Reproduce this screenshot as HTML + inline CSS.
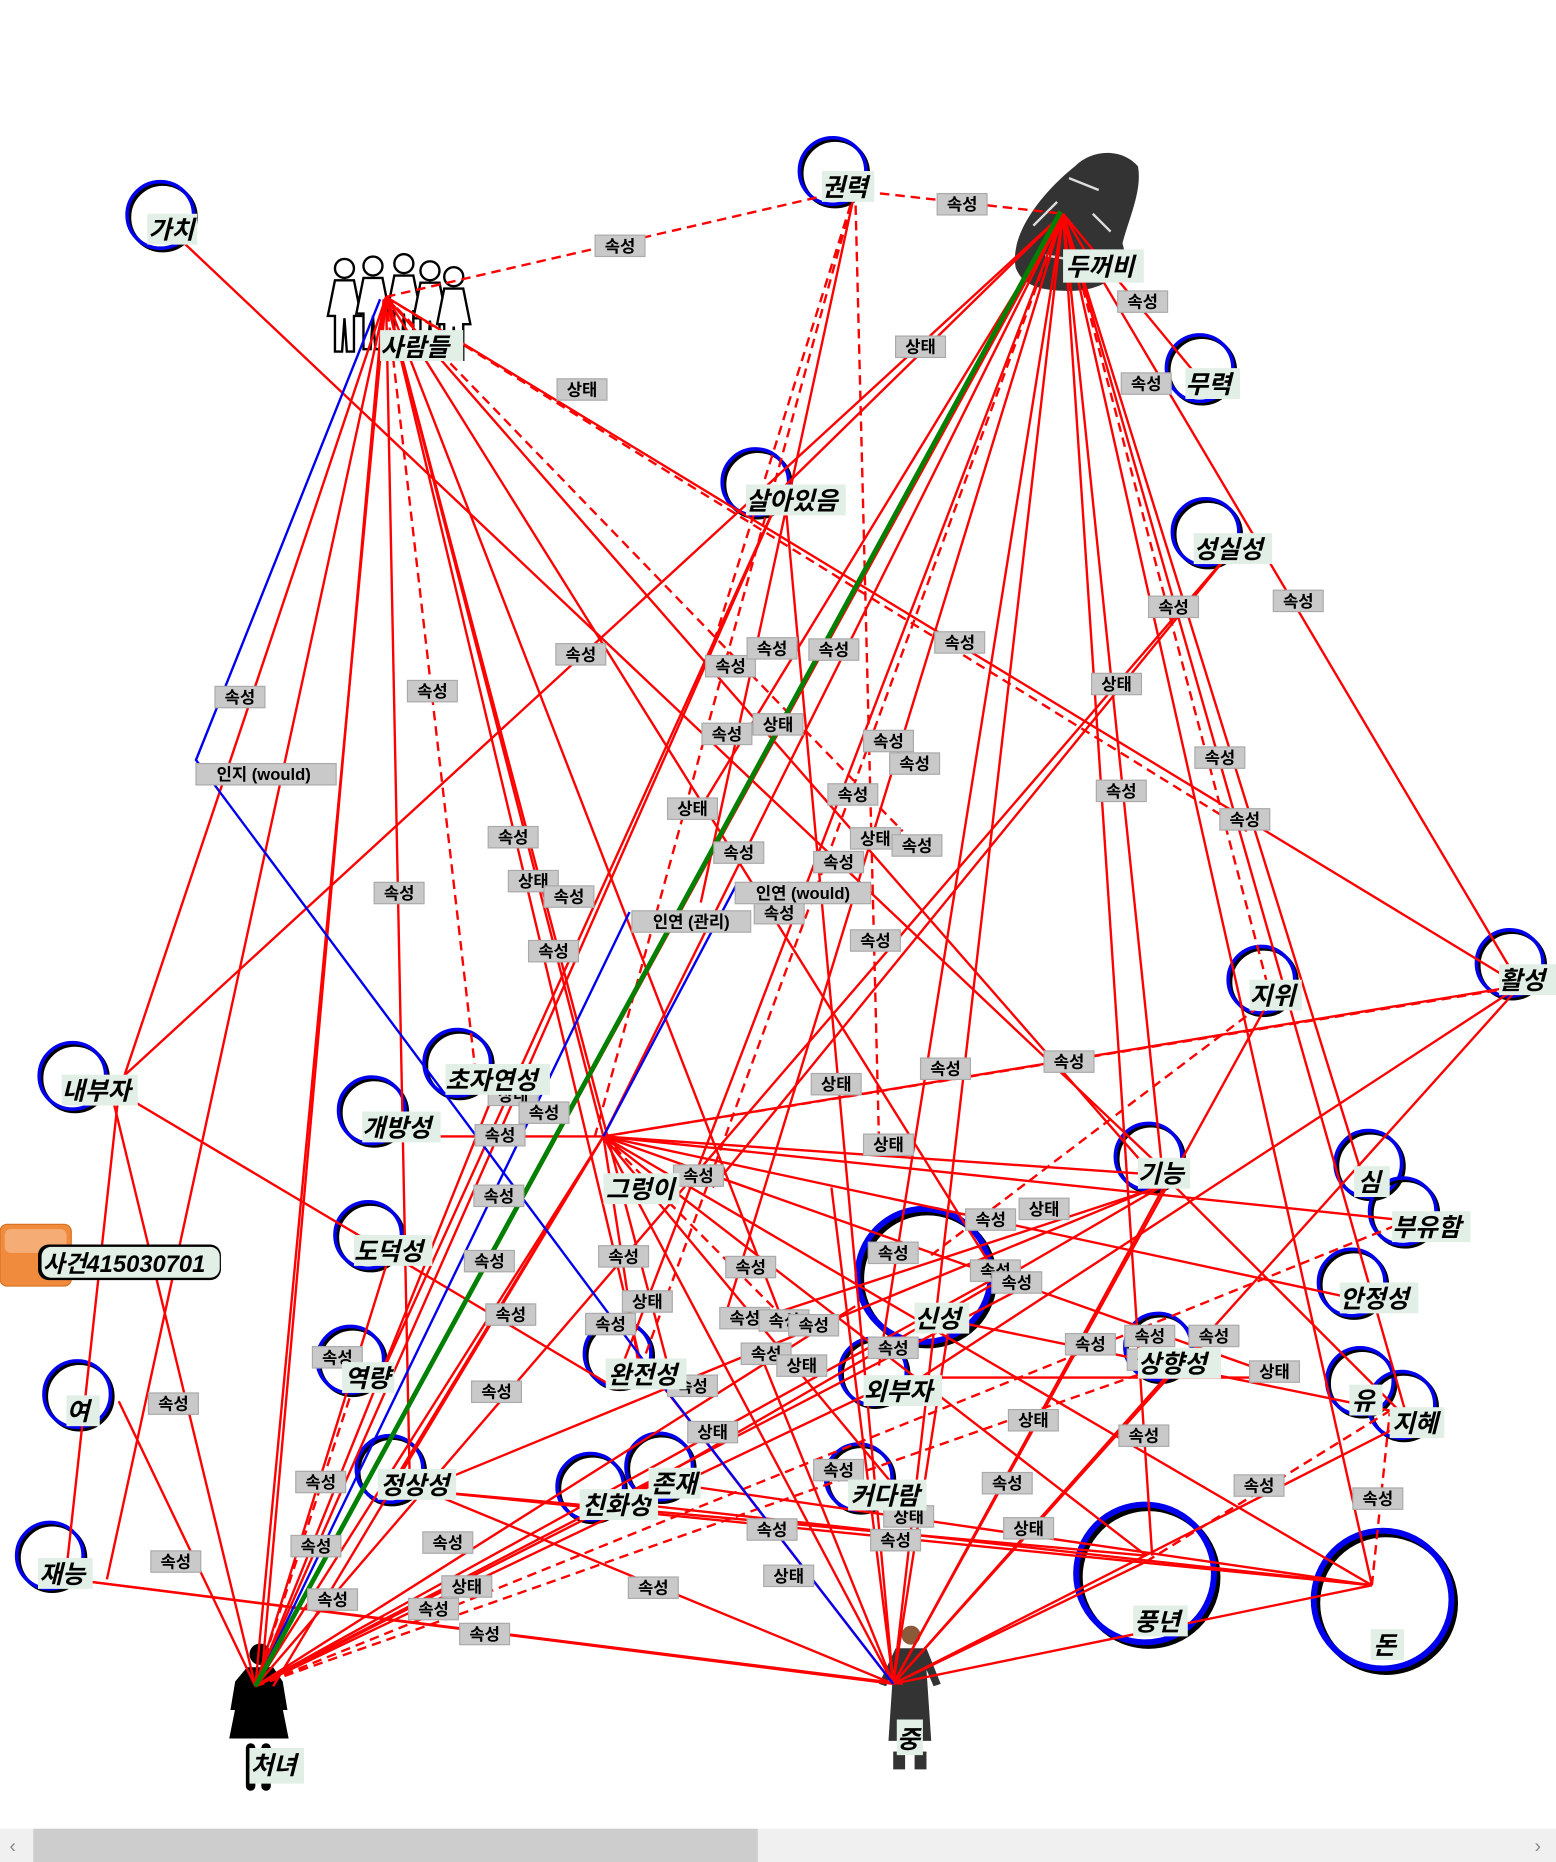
<!DOCTYPE html>
<html><head><meta charset="utf-8"><style>
html,body{margin:0;padding:0;background:#fff;width:1556px;height:1862px;overflow:hidden}
svg{display:block}
.l{fill:#c9c9c9;stroke:#aaa;stroke-width:1}
.t{font-family:"Liberation Sans","Noto Sans CJK KR",sans-serif;font-weight:bold;font-size:14px;fill:#000}
.n{font-family:"Liberation Sans","Noto Sans CJK KR",sans-serif;font-weight:bold;font-style:italic;font-size:21px;fill:#000}
.nb{fill:#e2efe6}
</style></head><body>
<svg width="1556" height="1862" viewBox="0 0 1310 1568" preserveAspectRatio="none" xmlns="http://www.w3.org/2000/svg">
<rect width="1310" height="1568" fill="#fff"/>
<!-- nodes circles -->
<g fill="none" stroke-width="3">
<g id="circles">
</g>
</g>
<g fill="none" stroke-width="3">
<circle cx="135" cy="181" r="28" stroke="#000" transform="translate(2,2)"/><circle cx="135" cy="181" r="28" stroke="#0000ee"/>
<circle cx="701" cy="144" r="28" stroke="#000" transform="translate(2,2)"/><circle cx="701" cy="144" r="28" stroke="#0000ee"/>
<circle cx="1010" cy="310" r="28" stroke="#000" transform="translate(2,2)"/><circle cx="1010" cy="310" r="28" stroke="#0000ee"/>
<circle cx="636" cy="406" r="28" stroke="#000" transform="translate(2,2)"/><circle cx="636" cy="406" r="28" stroke="#0000ee"/>
<circle cx="1015" cy="448" r="28" stroke="#000" transform="translate(2,2)"/><circle cx="1015" cy="448" r="28" stroke="#0000ee"/>
<circle cx="1062" cy="825" r="28" stroke="#000" transform="translate(2,2)"/><circle cx="1062" cy="825" r="28" stroke="#0000ee"/>
<circle cx="1271" cy="811" r="28" stroke="#000" transform="translate(2,2)"/><circle cx="1271" cy="811" r="28" stroke="#0000ee"/>
<circle cx="61" cy="906" r="28" stroke="#000" transform="translate(2,2)"/><circle cx="61" cy="906" r="28" stroke="#0000ee"/>
<circle cx="385" cy="895" r="28" stroke="#000" transform="translate(2,2)"/><circle cx="385" cy="895" r="28" stroke="#0000ee"/>
<circle cx="313" cy="935" r="28" stroke="#000" transform="translate(2,2)"/><circle cx="313" cy="935" r="28" stroke="#0000ee"/>
<circle cx="967" cy="974" r="28" stroke="#000" transform="translate(2,2)"/><circle cx="967" cy="974" r="28" stroke="#0000ee"/>
<circle cx="1152" cy="980" r="28" stroke="#000" transform="translate(2,2)"/><circle cx="1152" cy="980" r="28" stroke="#0000ee"/>
<circle cx="1181" cy="1020" r="28" stroke="#000" transform="translate(2,2)"/><circle cx="1181" cy="1020" r="28" stroke="#0000ee"/>
<circle cx="310" cy="1040" r="28" stroke="#000" transform="translate(2,2)"/><circle cx="310" cy="1040" r="28" stroke="#0000ee"/>
<circle cx="778" cy="1074" r="56" stroke="#000" stroke-width="5" transform="translate(3,3)"/><circle cx="778" cy="1074" r="56" stroke="#0000ee" stroke-width="5"/>
<circle cx="1138" cy="1080" r="28" stroke="#000" transform="translate(2,2)"/><circle cx="1138" cy="1080" r="28" stroke="#0000ee"/>
<circle cx="65" cy="1174" r="28" stroke="#000" transform="translate(2,2)"/><circle cx="65" cy="1174" r="28" stroke="#0000ee"/>
<circle cx="295" cy="1145" r="28" stroke="#000" transform="translate(2,2)"/><circle cx="295" cy="1145" r="28" stroke="#0000ee"/>
<circle cx="520" cy="1140" r="28" stroke="#000" transform="translate(2,2)"/><circle cx="520" cy="1140" r="28" stroke="#0000ee"/>
<circle cx="735" cy="1155" r="28" stroke="#000" transform="translate(2,2)"/><circle cx="735" cy="1155" r="28" stroke="#0000ee"/>
<circle cx="975" cy="1134" r="28" stroke="#000" transform="translate(2,2)"/><circle cx="975" cy="1134" r="28" stroke="#0000ee"/>
<circle cx="1145" cy="1163" r="28" stroke="#000" transform="translate(2,2)"/><circle cx="1145" cy="1163" r="28" stroke="#0000ee"/>
<circle cx="1180" cy="1183" r="28" stroke="#000" transform="translate(2,2)"/><circle cx="1180" cy="1183" r="28" stroke="#0000ee"/>
<circle cx="328" cy="1237" r="28" stroke="#000" transform="translate(2,2)"/><circle cx="328" cy="1237" r="28" stroke="#0000ee"/>
<circle cx="497" cy="1252" r="28" stroke="#000" transform="translate(2,2)"/><circle cx="497" cy="1252" r="28" stroke="#0000ee"/>
<circle cx="555" cy="1235" r="28" stroke="#000" transform="translate(2,2)"/><circle cx="555" cy="1235" r="28" stroke="#0000ee"/>
<circle cx="723" cy="1244" r="28" stroke="#000" transform="translate(2,2)"/><circle cx="723" cy="1244" r="28" stroke="#0000ee"/>
<circle cx="964" cy="1325" r="58" stroke="#000" stroke-width="5" transform="translate(3,3)"/><circle cx="964" cy="1325" r="58" stroke="#0000ee" stroke-width="5"/>
<circle cx="1164" cy="1347" r="58" stroke="#000" stroke-width="5" transform="translate(3,3)"/><circle cx="1164" cy="1347" r="58" stroke="#0000ee" stroke-width="5"/>
<circle cx="42" cy="1310" r="28" stroke="#000" transform="translate(2,2)"/><circle cx="42" cy="1310" r="28" stroke="#0000ee"/>
</g>
<!-- images -->
<g>
<path d="M855,225 C850,195 880,160 905,140 C920,125 945,125 958,140 C962,160 950,185 945,205 C952,225 935,245 900,245 C875,245 860,240 855,225Z" fill="#333"/>
<path d="M870,190 l20,-20 M900,150 l25,10 M880,215 l30,5 M920,180 l15,15" stroke="#ddd" stroke-width="2"/>
<g stroke="#000" stroke-width="2" fill="#fff">
<circle cx="290" cy="226" r="8"/><path d="M282,236 h16 l6,30 -6,0 0,30 -6,0 -2,-28 -2,28 -6,0 0,-30 -6,0z"/>
<circle cx="314" cy="224" r="8"/><path d="M306,234 h16 l6,30 -6,0 0,30 -6,0 -2,-28 -2,28 -6,0 0,-30 -6,0z"/>
<circle cx="340" cy="222" r="8"/><path d="M332,232 h16 l6,30 -6,0 0,30 -6,0 -2,-28 -2,28 -6,0 0,-30 -6,0z"/>
<circle cx="362" cy="228" r="8"/><path d="M354,238 h16 l6,30 -6,0 0,30 -6,0 -2,-28 -2,28 -6,0 0,-30 -6,0z"/>
<circle cx="382" cy="233" r="8"/><path d="M374,243 h16 l6,30 -6,0 0,30 -6,0 -2,-28 -2,28 -6,0 0,-30 -6,0z"/>
</g>
<circle cx="219" cy="1393" r="9" fill="#000"/>
<path d="M208,1404 h22 l8,12 4,24 -4,0 -3,-16 8,40 -50,0 8,-40 -3,16 -4,0 4,-24z" fill="#000"/>
<rect x="207" y="1468" width="8" height="40" rx="4" fill="#000"/><rect x="220" y="1468" width="8" height="40" rx="4" fill="#000"/>
<circle cx="767" cy="1377" r="8" fill="#8a5a3a"/>
<path d="M754,1388 h26 l12,30 -6,2 -6,-14 4,60 -36,0 4,-60 -6,14 -6,-2z" fill="#333"/>
<rect x="752" y="1475" width="10" height="15" fill="#333"/><rect x="770" y="1475" width="10" height="15" fill="#333"/>
</g>
<!-- edges -->
<g stroke="#f00" stroke-width="2" fill="none">
<line x1="325" y1="250" x2="715" y2="160" stroke-dasharray="8,5"/>
<line x1="715" y1="160" x2="895" y2="180" stroke-dasharray="8,5"/>
<line x1="720" y1="160" x2="595" y2="560" stroke-dasharray="8,5"/>
<line x1="720" y1="160" x2="590" y2="760"/>
<line x1="720" y1="160" x2="740" y2="960" stroke-dasharray="8,5"/>
<line x1="720" y1="160" x2="500" y2="960" stroke-dasharray="8,5"/>
<line x1="150" y1="200" x2="985" y2="990"/>
<line x1="325" y1="250" x2="215" y2="1420"/>
<line x1="323" y1="252" x2="220" y2="1415"/>
<line x1="325" y1="250" x2="105" y2="905"/>
<line x1="325" y1="250" x2="90" y2="1330"/>
<line x1="325" y1="250" x2="345" y2="1250"/>
<line x1="325" y1="250" x2="400" y2="900" stroke-dasharray="8,5"/>
<line x1="325" y1="250" x2="508" y2="957"/>
<line x1="325" y1="250" x2="540" y2="1150"/>
<line x1="325" y1="250" x2="565" y2="1160"/>
<line x1="325" y1="250" x2="660" y2="1115"/>
<line x1="325" y1="250" x2="840" y2="1075"/>
<line x1="325" y1="250" x2="1050" y2="700" stroke-dasharray="8,5"/>
<line x1="325" y1="250" x2="1280" y2="830"/>
<line x1="325" y1="250" x2="760" y2="700" stroke-dasharray="8,5"/>
<line x1="325" y1="250" x2="980" y2="1000"/>
<line x1="895" y1="180" x2="215" y2="1420"/>
<line x1="895" y1="180" x2="100" y2="910"/>
<line x1="895" y1="180" x2="508" y2="957"/>
<line x1="895" y1="180" x2="520" y2="1160"/>
<line x1="895" y1="180" x2="540" y2="1150" stroke-dasharray="8,5"/>
<line x1="895" y1="180" x2="610" y2="1110"/>
<line x1="895" y1="180" x2="740" y2="1150"/>
<line x1="895" y1="180" x2="752" y2="1418"/>
<line x1="895" y1="180" x2="980" y2="1000"/>
<line x1="895" y1="180" x2="970" y2="1310"/>
<line x1="895" y1="180" x2="1070" y2="840" stroke-dasharray="8,5"/>
<line x1="895" y1="180" x2="1155" y2="1335"/>
<line x1="895" y1="180" x2="1185" y2="1195"/>
<line x1="895" y1="180" x2="1280" y2="830"/>
<line x1="895" y1="180" x2="1015" y2="325"/>
<line x1="895" y1="180" x2="1150" y2="1000"/>
<line x1="895" y1="180" x2="660" y2="410"/>
<line x1="895" y1="180" x2="590" y2="680"/>
<line x1="660" y1="410" x2="215" y2="1420"/>
<line x1="660" y1="410" x2="752" y2="1418"/>
<line x1="660" y1="410" x2="320" y2="1160"/>
<line x1="1040" y1="460" x2="215" y2="1420"/>
<line x1="1040" y1="460" x2="600" y2="1000"/>
<line x1="508" y1="957" x2="215" y2="1420"/>
<line x1="508" y1="957" x2="230" y2="1420"/>
<line x1="508" y1="957" x2="752" y2="1418"/>
<line x1="508" y1="957" x2="355" y2="957"/>
<line x1="508" y1="957" x2="985" y2="990"/>
<line x1="508" y1="957" x2="1285" y2="830" stroke-dasharray="8,5"/>
<line x1="508" y1="957" x2="1155" y2="1335"/>
<line x1="508" y1="957" x2="965" y2="1310"/>
<line x1="508" y1="957" x2="1205" y2="1030"/>
<line x1="508" y1="957" x2="1170" y2="1100"/>
<line x1="508" y1="957" x2="1080" y2="1160"/>
<line x1="508" y1="957" x2="540" y2="1165"/>
<line x1="508" y1="957" x2="330" y2="1250"/>
<line x1="508" y1="957" x2="660" y2="1110" stroke-dasharray="8,5"/>
<line x1="508" y1="957" x2="760" y2="1260"/>
<line x1="215" y1="1420" x2="100" y2="1180"/>
<line x1="215" y1="1420" x2="90" y2="905"/>
<line x1="215" y1="1420" x2="840" y2="1075"/>
<line x1="215" y1="1420" x2="860" y2="1085"/>
<line x1="215" y1="1420" x2="980" y2="1150" stroke-dasharray="8,5"/>
<line x1="215" y1="1420" x2="1180" y2="1030" stroke-dasharray="8,5"/>
<line x1="215" y1="1420" x2="760" y2="1160"/>
<line x1="215" y1="1420" x2="560" y2="1245"/>
<line x1="215" y1="1420" x2="330" y2="1050"/>
<line x1="215" y1="1420" x2="300" y2="1160" stroke-dasharray="8,5"/>
<line x1="215" y1="1420" x2="420" y2="910"/>
<line x1="215" y1="1420" x2="720" y2="1100"/>
<line x1="752" y1="1418" x2="60" y2="1330"/>
<line x1="752" y1="1418" x2="345" y2="1250"/>
<line x1="752" y1="1418" x2="560" y2="1170"/>
<line x1="752" y1="1418" x2="985" y2="990"/>
<line x1="752" y1="1418" x2="1180" y2="1200"/>
<line x1="752" y1="1418" x2="1070" y2="840"/>
<line x1="752" y1="1418" x2="1280" y2="830"/>
<line x1="752" y1="1418" x2="990" y2="1150"/>
<line x1="752" y1="1418" x2="800" y2="1110"/>
<line x1="752" y1="1418" x2="640" y2="1140"/>
<line x1="752" y1="1418" x2="965" y2="1315"/>
<line x1="752" y1="1418" x2="1155" y2="1335"/>
<line x1="752" y1="1418" x2="700" y2="1000"/>
<line x1="352" y1="1255" x2="1155" y2="1335"/>
<line x1="352" y1="1255" x2="965" y2="1310"/>
<line x1="352" y1="1255" x2="985" y2="995"/>
<line x1="520" y1="1265" x2="1155" y2="1335"/>
<line x1="520" y1="1265" x2="985" y2="995"/>
<line x1="570" y1="1250" x2="1155" y2="1335"/>
<line x1="760" y1="1160" x2="1080" y2="1160"/>
<line x1="790" y1="1110" x2="1205" y2="1195"/>
<line x1="640" y1="1110" x2="990" y2="995"/>
<line x1="1280" y1="830" x2="508" y2="957"/>
<line x1="1280" y1="830" x2="760" y2="1170"/>
<line x1="1155" y1="1335" x2="1170" y2="1190" stroke-dasharray="8,5"/>
<line x1="965" y1="1315" x2="1175" y2="1185" stroke-dasharray="8,5"/>
<line x1="985" y1="995" x2="1200" y2="1210"/>
<line x1="1070" y1="840" x2="780" y2="1060" stroke-dasharray="8,5"/>
<line x1="100" y1="920" x2="520" y2="1170"/>
<line x1="100" y1="920" x2="55" y2="1330"/>
<line x1="60" y1="1330" x2="760" y2="1418"/>
</g>
<g stroke="#0000ee" stroke-width="2" fill="none">
<polyline points="320,252 165,640 545,1150 752,1418"/>
<line x1="530" y1="768" x2="215" y2="1420"/>
<line x1="620" y1="745" x2="508" y2="957"/>
</g>
<line x1="893" y1="178" x2="215" y2="1420" stroke="#008000" stroke-width="4"/>
<!-- labels -->
<g id="lbl"></g>
<g class="t">
<g transform="translate(522,207)"><rect class="l" x="-21" y="-9" width="42" height="18"/><text x="0" y="5" text-anchor="middle">속성</text></g>
<g transform="translate(810,172)"><rect class="l" x="-21" y="-9" width="42" height="18"/><text x="0" y="5" text-anchor="middle">속성</text></g>
<g transform="translate(775,292)"><rect class="l" x="-21" y="-9" width="42" height="18"/><text x="0" y="5" text-anchor="middle">상태</text></g>
<g transform="translate(962,254)"><rect class="l" x="-21" y="-9" width="42" height="18"/><text x="0" y="5" text-anchor="middle">속성</text></g>
<g transform="translate(965,323)"><rect class="l" x="-21" y="-9" width="42" height="18"/><text x="0" y="5" text-anchor="middle">속성</text></g>
<g transform="translate(490,328)"><rect class="l" x="-21" y="-9" width="42" height="18"/><text x="0" y="5" text-anchor="middle">상태</text></g>
<g transform="translate(988,511)"><rect class="l" x="-21" y="-9" width="42" height="18"/><text x="0" y="5" text-anchor="middle">속성</text></g>
<g transform="translate(1093,506)"><rect class="l" x="-21" y="-9" width="42" height="18"/><text x="0" y="5" text-anchor="middle">속성</text></g>
<g transform="translate(808,541)"><rect class="l" x="-21" y="-9" width="42" height="18"/><text x="0" y="5" text-anchor="middle">속성</text></g>
<g transform="translate(202,587)"><rect class="l" x="-21" y="-9" width="42" height="18"/><text x="0" y="5" text-anchor="middle">속성</text></g>
<g transform="translate(364,582)"><rect class="l" x="-21" y="-9" width="42" height="18"/><text x="0" y="5" text-anchor="middle">속성</text></g>
<g transform="translate(489,551)"><rect class="l" x="-21" y="-9" width="42" height="18"/><text x="0" y="5" text-anchor="middle">속성</text></g>
<g transform="translate(615,561)"><rect class="l" x="-21" y="-9" width="42" height="18"/><text x="0" y="5" text-anchor="middle">속성</text></g>
<g transform="translate(650,546)"><rect class="l" x="-21" y="-9" width="42" height="18"/><text x="0" y="5" text-anchor="middle">속성</text></g>
<g transform="translate(702,547)"><rect class="l" x="-21" y="-9" width="42" height="18"/><text x="0" y="5" text-anchor="middle">속성</text></g>
<g transform="translate(940,576)"><rect class="l" x="-21" y="-9" width="42" height="18"/><text x="0" y="5" text-anchor="middle">상태</text></g>
<g transform="translate(612,618)"><rect class="l" x="-21" y="-9" width="42" height="18"/><text x="0" y="5" text-anchor="middle">속성</text></g>
<g transform="translate(655,610)"><rect class="l" x="-21" y="-9" width="42" height="18"/><text x="0" y="5" text-anchor="middle">상태</text></g>
<g transform="translate(748,624)"><rect class="l" x="-21" y="-9" width="42" height="18"/><text x="0" y="5" text-anchor="middle">속성</text></g>
<g transform="translate(770,643)"><rect class="l" x="-21" y="-9" width="42" height="18"/><text x="0" y="5" text-anchor="middle">속성</text></g>
<g transform="translate(1027,638)"><rect class="l" x="-21" y="-9" width="42" height="18"/><text x="0" y="5" text-anchor="middle">속성</text></g>
<g transform="translate(944,666)"><rect class="l" x="-21" y="-9" width="42" height="18"/><text x="0" y="5" text-anchor="middle">속성</text></g>
<g transform="translate(1048,690)"><rect class="l" x="-21" y="-9" width="42" height="18"/><text x="0" y="5" text-anchor="middle">속성</text></g>
<g transform="translate(718,669)"><rect class="l" x="-21" y="-9" width="42" height="18"/><text x="0" y="5" text-anchor="middle">속성</text></g>
<g transform="translate(583,681)"><rect class="l" x="-21" y="-9" width="42" height="18"/><text x="0" y="5" text-anchor="middle">상태</text></g>
<g transform="translate(737,706)"><rect class="l" x="-21" y="-9" width="42" height="18"/><text x="0" y="5" text-anchor="middle">상태</text></g>
<g transform="translate(772,712)"><rect class="l" x="-21" y="-9" width="42" height="18"/><text x="0" y="5" text-anchor="middle">속성</text></g>
<g transform="translate(432,705)"><rect class="l" x="-21" y="-9" width="42" height="18"/><text x="0" y="5" text-anchor="middle">속성</text></g>
<g transform="translate(622,718)"><rect class="l" x="-21" y="-9" width="42" height="18"/><text x="0" y="5" text-anchor="middle">속성</text></g>
<g transform="translate(706,726)"><rect class="l" x="-21" y="-9" width="42" height="18"/><text x="0" y="5" text-anchor="middle">속성</text></g>
<g transform="translate(449,742)"><rect class="l" x="-21" y="-9" width="42" height="18"/><text x="0" y="5" text-anchor="middle">상태</text></g>
<g transform="translate(479,755)"><rect class="l" x="-21" y="-9" width="42" height="18"/><text x="0" y="5" text-anchor="middle">속성</text></g>
<g transform="translate(336,752)"><rect class="l" x="-21" y="-9" width="42" height="18"/><text x="0" y="5" text-anchor="middle">속성</text></g>
<g transform="translate(656,769)"><rect class="l" x="-21" y="-9" width="42" height="18"/><text x="0" y="5" text-anchor="middle">속성</text></g>
<g transform="translate(737,792)"><rect class="l" x="-21" y="-9" width="42" height="18"/><text x="0" y="5" text-anchor="middle">속성</text></g>
<g transform="translate(466,801)"><rect class="l" x="-21" y="-9" width="42" height="18"/><text x="0" y="5" text-anchor="middle">속성</text></g>
<g transform="translate(796,900)"><rect class="l" x="-21" y="-9" width="42" height="18"/><text x="0" y="5" text-anchor="middle">속성</text></g>
<g transform="translate(900,894)"><rect class="l" x="-21" y="-9" width="42" height="18"/><text x="0" y="5" text-anchor="middle">속성</text></g>
<g transform="translate(704,913)"><rect class="l" x="-21" y="-9" width="42" height="18"/><text x="0" y="5" text-anchor="middle">상태</text></g>
<g transform="translate(432,922)"><rect class="l" x="-21" y="-9" width="42" height="18"/><text x="0" y="5" text-anchor="middle">상태</text></g>
<g transform="translate(458,937)"><rect class="l" x="-21" y="-9" width="42" height="18"/><text x="0" y="5" text-anchor="middle">속성</text></g>
<g transform="translate(421,956)"><rect class="l" x="-21" y="-9" width="42" height="18"/><text x="0" y="5" text-anchor="middle">속성</text></g>
<g transform="translate(748,964)"><rect class="l" x="-21" y="-9" width="42" height="18"/><text x="0" y="5" text-anchor="middle">상태</text></g>
<g transform="translate(588,990)"><rect class="l" x="-21" y="-9" width="42" height="18"/><text x="0" y="5" text-anchor="middle">속성</text></g>
<g transform="translate(420,1007)"><rect class="l" x="-21" y="-9" width="42" height="18"/><text x="0" y="5" text-anchor="middle">속성</text></g>
<g transform="translate(879,1018)"><rect class="l" x="-21" y="-9" width="42" height="18"/><text x="0" y="5" text-anchor="middle">상태</text></g>
<g transform="translate(834,1027)"><rect class="l" x="-21" y="-9" width="42" height="18"/><text x="0" y="5" text-anchor="middle">속성</text></g>
<g transform="translate(752,1055)"><rect class="l" x="-21" y="-9" width="42" height="18"/><text x="0" y="5" text-anchor="middle">속성</text></g>
<g transform="translate(525,1058)"><rect class="l" x="-21" y="-9" width="42" height="18"/><text x="0" y="5" text-anchor="middle">속성</text></g>
<g transform="translate(412,1062)"><rect class="l" x="-21" y="-9" width="42" height="18"/><text x="0" y="5" text-anchor="middle">속성</text></g>
<g transform="translate(632,1067)"><rect class="l" x="-21" y="-9" width="42" height="18"/><text x="0" y="5" text-anchor="middle">속성</text></g>
<g transform="translate(838,1070)"><rect class="l" x="-21" y="-9" width="42" height="18"/><text x="0" y="5" text-anchor="middle">속성</text></g>
<g transform="translate(856,1080)"><rect class="l" x="-21" y="-9" width="42" height="18"/><text x="0" y="5" text-anchor="middle">속성</text></g>
<g transform="translate(545,1096)"><rect class="l" x="-21" y="-9" width="42" height="18"/><text x="0" y="5" text-anchor="middle">상태</text></g>
<g transform="translate(430,1107)"><rect class="l" x="-21" y="-9" width="42" height="18"/><text x="0" y="5" text-anchor="middle">속성</text></g>
<g transform="translate(514,1115)"><rect class="l" x="-21" y="-9" width="42" height="18"/><text x="0" y="5" text-anchor="middle">속성</text></g>
<g transform="translate(627,1110)"><rect class="l" x="-21" y="-9" width="42" height="18"/><text x="0" y="5" text-anchor="middle">속성</text></g>
<g transform="translate(660,1112)"><rect class="l" x="-21" y="-9" width="42" height="18"/><text x="0" y="5" text-anchor="middle">속성</text></g>
<g transform="translate(685,1116)"><rect class="l" x="-21" y="-9" width="42" height="18"/><text x="0" y="5" text-anchor="middle">속성</text></g>
<g transform="translate(284,1143)"><rect class="l" x="-21" y="-9" width="42" height="18"/><text x="0" y="5" text-anchor="middle">속성</text></g>
<g transform="translate(645,1140)"><rect class="l" x="-21" y="-9" width="42" height="18"/><text x="0" y="5" text-anchor="middle">속성</text></g>
<g transform="translate(675,1150)"><rect class="l" x="-21" y="-9" width="42" height="18"/><text x="0" y="5" text-anchor="middle">상태</text></g>
<g transform="translate(752,1135)"><rect class="l" x="-21" y="-9" width="42" height="18"/><text x="0" y="5" text-anchor="middle">속성</text></g>
<g transform="translate(918,1132)"><rect class="l" x="-21" y="-9" width="42" height="18"/><text x="0" y="5" text-anchor="middle">속성</text></g>
<g transform="translate(968,1125)"><rect class="l" x="-21" y="-9" width="42" height="18"/><text x="0" y="5" text-anchor="middle">속성</text></g>
<g transform="translate(1022,1125)"><rect class="l" x="-21" y="-9" width="42" height="18"/><text x="0" y="5" text-anchor="middle">속성</text></g>
<g transform="translate(970,1145)"><rect class="l" x="-21" y="-9" width="42" height="18"/><text x="0" y="5" text-anchor="middle">상태</text></g>
<g transform="translate(1073,1155)"><rect class="l" x="-21" y="-9" width="42" height="18"/><text x="0" y="5" text-anchor="middle">상태</text></g>
<g transform="translate(418,1172)"><rect class="l" x="-21" y="-9" width="42" height="18"/><text x="0" y="5" text-anchor="middle">속성</text></g>
<g transform="translate(583,1167)"><rect class="l" x="-21" y="-9" width="42" height="18"/><text x="0" y="5" text-anchor="middle">속성</text></g>
<g transform="translate(146,1182)"><rect class="l" x="-21" y="-9" width="42" height="18"/><text x="0" y="5" text-anchor="middle">속성</text></g>
<g transform="translate(870,1196)"><rect class="l" x="-21" y="-9" width="42" height="18"/><text x="0" y="5" text-anchor="middle">상태</text></g>
<g transform="translate(600,1206)"><rect class="l" x="-21" y="-9" width="42" height="18"/><text x="0" y="5" text-anchor="middle">상태</text></g>
<g transform="translate(963,1209)"><rect class="l" x="-21" y="-9" width="42" height="18"/><text x="0" y="5" text-anchor="middle">속성</text></g>
<g transform="translate(270,1248)"><rect class="l" x="-21" y="-9" width="42" height="18"/><text x="0" y="5" text-anchor="middle">속성</text></g>
<g transform="translate(706,1238)"><rect class="l" x="-21" y="-9" width="42" height="18"/><text x="0" y="5" text-anchor="middle">속성</text></g>
<g transform="translate(848,1249)"><rect class="l" x="-21" y="-9" width="42" height="18"/><text x="0" y="5" text-anchor="middle">속성</text></g>
<g transform="translate(1060,1251)"><rect class="l" x="-21" y="-9" width="42" height="18"/><text x="0" y="5" text-anchor="middle">속성</text></g>
<g transform="translate(1160,1262)"><rect class="l" x="-21" y="-9" width="42" height="18"/><text x="0" y="5" text-anchor="middle">속성</text></g>
<g transform="translate(765,1277)"><rect class="l" x="-21" y="-9" width="42" height="18"/><text x="0" y="5" text-anchor="middle">상태</text></g>
<g transform="translate(650,1288)"><rect class="l" x="-21" y="-9" width="42" height="18"/><text x="0" y="5" text-anchor="middle">속성</text></g>
<g transform="translate(866,1287)"><rect class="l" x="-21" y="-9" width="42" height="18"/><text x="0" y="5" text-anchor="middle">상태</text></g>
<g transform="translate(754,1297)"><rect class="l" x="-21" y="-9" width="42" height="18"/><text x="0" y="5" text-anchor="middle">속성</text></g>
<g transform="translate(377,1299)"><rect class="l" x="-21" y="-9" width="42" height="18"/><text x="0" y="5" text-anchor="middle">속성</text></g>
<g transform="translate(266,1302)"><rect class="l" x="-21" y="-9" width="42" height="18"/><text x="0" y="5" text-anchor="middle">속성</text></g>
<g transform="translate(148,1315)"><rect class="l" x="-21" y="-9" width="42" height="18"/><text x="0" y="5" text-anchor="middle">속성</text></g>
<g transform="translate(664,1327)"><rect class="l" x="-21" y="-9" width="42" height="18"/><text x="0" y="5" text-anchor="middle">상태</text></g>
<g transform="translate(550,1337)"><rect class="l" x="-21" y="-9" width="42" height="18"/><text x="0" y="5" text-anchor="middle">속성</text></g>
<g transform="translate(393,1336)"><rect class="l" x="-21" y="-9" width="42" height="18"/><text x="0" y="5" text-anchor="middle">상태</text></g>
<g transform="translate(280,1347)"><rect class="l" x="-21" y="-9" width="42" height="18"/><text x="0" y="5" text-anchor="middle">속성</text></g>
<g transform="translate(365,1355)"><rect class="l" x="-21" y="-9" width="42" height="18"/><text x="0" y="5" text-anchor="middle">속성</text></g>
<g transform="translate(408,1376)"><rect class="l" x="-21" y="-9" width="42" height="18"/><text x="0" y="5" text-anchor="middle">속성</text></g>
<g transform="translate(222,652)"><rect class="l" x="-57" y="-9" width="118" height="18"/><text x="0" y="5" text-anchor="middle">인지 (would)</text></g>
<g transform="translate(676,752)"><rect class="l" x="-57" y="-9" width="114" height="18"/><text x="0" y="5" text-anchor="middle">인연 (would)</text></g>
<g transform="translate(582,776)"><rect class="l" x="-50" y="-9" width="100" height="18"/><text x="0" y="5" text-anchor="middle">인연 (관리)</text></g>
</g>
<!-- node labels -->
<g class="n">
<rect class="nb" x="124" y="180" width="42" height="26"/><text x="125" y="201">가치</text>
<rect class="nb" x="692" y="144" width="44" height="26"/><text x="692" y="165">권력</text>
<rect class="nb" x="895" y="210" width="68" height="28"/><text x="897" y="232">두꺼비</text>
<rect class="nb" x="320" y="278" width="70" height="26"/><text x="320" y="300">사람들</text>
<rect class="nb" x="998" y="310" width="46" height="26"/><text x="998" y="331">무력</text>
<rect class="nb" x="628" y="408" width="84" height="26"/><text x="628" y="429">살아있음</text>
<rect class="nb" x="1005" y="449" width="66" height="26"/><text x="1005" y="470">성실성</text>
<rect class="nb" x="1052" y="825" width="44" height="26"/><text x="1052" y="846">지위</text>
<rect class="nb" x="1262" y="812" width="48" height="26"/><text x="1262" y="833">활성</text>
<rect class="nb" x="52" y="905" width="64" height="26"/><text x="52" y="926">내부자</text>
<rect class="nb" x="375" y="896" width="88" height="26"/><text x="375" y="917">초자연성</text>
<rect class="nb" x="305" y="936" width="66" height="26"/><text x="305" y="957">개방성</text>
<rect class="nb" x="508" y="988" width="64" height="26"/><text x="510" y="1009">그렁이</text>
<rect class="nb" x="958" y="975" width="44" height="26"/><text x="958" y="996">기능</text>
<rect class="nb" x="1140" y="982" width="30" height="26"/><text x="1143" y="1003">심</text>
<rect class="nb" x="1172" y="1020" width="66" height="26"/><text x="1172" y="1041">부유함</text>
<rect class="nb" x="298" y="1040" width="66" height="26"/><text x="298" y="1061">도덕성</text>
<rect class="nb" x="770" y="1097" width="46" height="26"/><text x="770" y="1118">신성</text>
<rect class="nb" x="1128" y="1080" width="66" height="26"/><text x="1128" y="1101">안정성</text>
<rect class="nb" x="56" y="1175" width="28" height="26"/><text x="56" y="1196">여</text>
<rect class="nb" x="288" y="1147" width="44" height="26"/><text x="290" y="1168">역량</text>
<rect class="nb" x="510" y="1144" width="68" height="26"/><text x="512" y="1165">완전성</text>
<rect class="nb" x="727" y="1158" width="66" height="26"/><text x="727" y="1179">외부자</text>
<rect class="nb" x="958" y="1135" width="70" height="26"/><text x="958" y="1156">상향성</text>
<rect class="nb" x="1136" y="1166" width="28" height="26"/><text x="1138" y="1187">유</text>
<rect class="nb" x="1170" y="1185" width="46" height="26"/><text x="1172" y="1206">지혜</text>
<rect class="nb" x="318" y="1237" width="66" height="26"/><text x="320" y="1258">정상성</text>
<rect class="nb" x="488" y="1254" width="66" height="26"/><text x="490" y="1275">친화성</text>
<rect class="nb" x="546" y="1236" width="44" height="26"/><text x="548" y="1257">존재</text>
<rect class="nb" x="714" y="1246" width="66" height="26"/><text x="716" y="1267">커다람</text>
<rect class="nb" x="954" y="1352" width="46" height="26"/><text x="955" y="1373">풍년</text>
<rect class="nb" x="1154" y="1372" width="28" height="26"/><text x="1156" y="1393">돈</text>
<rect class="nb" x="32" y="1312" width="46" height="26"/><text x="33" y="1333">재능</text>
<rect class="nb" x="210" y="1472" width="46" height="30"/><text x="211" y="1494">처녀</text>
<rect class="nb" x="755" y="1448" width="22" height="30"/><text x="755" y="1472">중</text>
</g>
<!-- event node -->
<rect x="0" y="1031" width="60" height="52" rx="6" fill="#f08a3c" stroke="#d87020"/>
<rect x="4" y="1035" width="52" height="20" rx="5" fill="#f6ad75"/>
<rect x="32" y="1048" width="154" height="30" rx="9" fill="#000"/>
<rect x="35" y="1050" width="150" height="26" rx="8" fill="#e2efe6"/>
<text class="n" x="36" y="1071" style="font-size:20px">사건415030701</text>
<!-- scrollbar -->
<rect x="0" y="1540" width="1310" height="28" fill="#f0f0f0"/>
<rect x="28" y="1540" width="610" height="28" fill="#cdcdcd"/>
<text x="8" y="1560" font-family="Liberation Sans,sans-serif" font-size="16" fill="#888">‹</text>
<text x="1292" y="1560" font-family="Liberation Sans,sans-serif" font-size="16" fill="#888">›</text>
</svg>
</body></html>
